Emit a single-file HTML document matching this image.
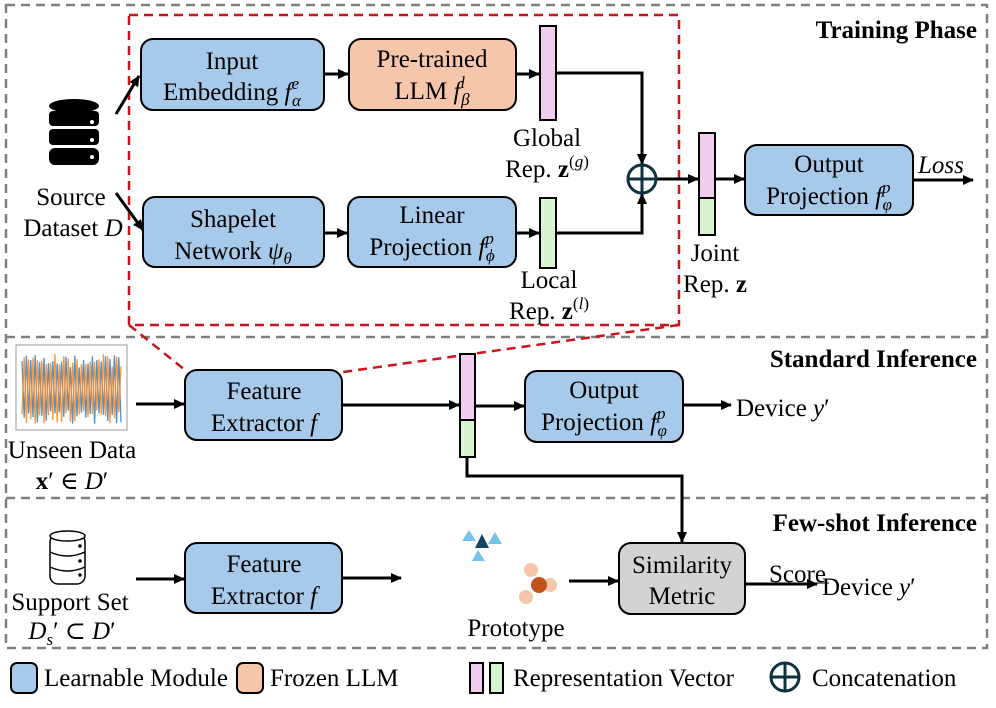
<!DOCTYPE html>
<html><head><meta charset="utf-8"><style>
body{margin:0;background:#fff;}
svg{display:block;}
svg text{font-family:"Liberation Serif","DejaVu Serif",serif;}
</style></head><body>
<svg width="996" height="708" viewBox="0 0 996 708" xmlns="http://www.w3.org/2000/svg">
<defs>
<marker id="ah" markerWidth="11" markerHeight="10" refX="10" refY="5" orient="auto" markerUnits="userSpaceOnUse"><path d="M0,0 L11,5 L0,10 z" fill="#000"/></marker>
</defs>
<g fill="none" stroke="#808080" stroke-width="2.5" stroke-dasharray="9,6">
<rect x="6" y="5" width="981" height="643"/>
<line x1="6" y1="337" x2="987" y2="337"/>
<line x1="6" y1="498" x2="987" y2="498"/>
</g>
<g fill="none" stroke="#c8151b" stroke-width="2.5" stroke-dasharray="9,6">
<rect x="129" y="15" width="550" height="310"/>
<line x1="129" y1="325" x2="185" y2="370"/>
<line x1="679" y1="325" x2="343" y2="372"/>
</g>
<g font-size="25" font-weight="bold" text-anchor="end">
<text x="977" y="38">Training Phase</text>
<text x="977" y="367">Standard Inference</text>
<text x="977" y="531">Few-shot Inference</text>
</g>
<g fill="#000">
<ellipse cx="74" cy="106" rx="25" ry="7"/>
<rect x="49" y="111" width="50" height="15" rx="4"/>
<rect x="49" y="129" width="50" height="16" rx="4"/>
<rect x="49" y="148" width="50" height="17" rx="6"/>
<circle cx="92" cy="122" r="2" fill="#fff"/><circle cx="92" cy="140" r="2" fill="#fff"/><circle cx="92" cy="157" r="2" fill="#fff"/>
</g>
<g font-size="25" text-anchor="middle">
<text x="71" y="205">Source</text>
<text x="73" y="236">Dataset <tspan font-style="italic">D</tspan></text>
</g>
<g stroke="#000" stroke-width="3" fill="none">
<line x1="116" y1="114" x2="139" y2="76" marker-end="url(#ah)"/>
<line x1="116" y1="193" x2="143" y2="230" marker-end="url(#ah)"/>
</g>
<g stroke="#000" stroke-width="2">
<rect x="141" y="39" width="183" height="71" rx="12" fill="#a7c9ea"/>
<rect x="349" y="39" width="167" height="71" rx="12" fill="#f5c6aa"/>
<rect x="143" y="197" width="181" height="70" rx="12" fill="#a7c9ea"/>
<rect x="348" y="197" width="168" height="70" rx="12" fill="#a7c9ea"/>
<rect x="745" y="145" width="168" height="70" rx="12" fill="#a7c9ea"/>
<rect x="185" y="370" width="157" height="70" rx="12" fill="#a7c9ea"/>
<rect x="525" y="371" width="158" height="71" rx="12" fill="#a7c9ea"/>
<rect x="185" y="543" width="157" height="70" rx="12" fill="#a7c9ea"/>
<rect x="619" y="543" width="126" height="71" rx="12" fill="#d3d3d3"/>
<rect x="540" y="26" width="16" height="94" fill="#f0cdec"/>
<rect x="540" y="198" width="16" height="70" fill="#d9f2d0"/>
<rect x="699" y="133" width="16" height="65" fill="#f0cdec"/>
<rect x="699" y="198" width="16" height="37" fill="#d9f2d0"/>
<rect x="460" y="354" width="15" height="66" fill="#f0cdec"/>
<rect x="460" y="420" width="15" height="37" fill="#d9f2d0"/>
</g>
<g font-size="25" text-anchor="middle">
<text x="232" y="69">Input</text>
<text x="232" y="100">Embedding <tspan font-style="italic">f</tspan><tspan font-style="italic" font-size="17" dy="-11">e</tspan><tspan font-style="italic" font-size="17" dx="-7" dy="17">α</tspan></text>
<text x="432" y="67">Pre-trained</text>
<text x="432" y="99">LLM <tspan font-style="italic">f</tspan><tspan font-style="italic" font-size="17" dy="-11">l</tspan><tspan font-style="italic" font-size="17" dx="-4" dy="17">β</tspan></text>
<text x="233" y="227">Shapelet</text>
<text x="233" y="259">Network <tspan font-style="italic">ψ</tspan><tspan font-style="italic" font-size="17" dy="5">θ</tspan></text>
<text x="432" y="223">Linear</text>
<text x="432" y="255">Projection <tspan font-style="italic">f</tspan><tspan font-style="italic" font-size="17" dy="-11">p</tspan><tspan font-style="italic" font-size="17" dx="-8" dy="17">ϕ</tspan></text>
<text x="547" y="146">Global</text>
<text x="547" y="177">Rep. <tspan font-weight="bold">z</tspan><tspan font-size="17" dy="-10">(<tspan font-style="italic">g</tspan>)</tspan></text>
<text x="549" y="288">Local</text>
<text x="549" y="319">Rep. <tspan font-weight="bold">z</tspan><tspan font-size="17" dy="-10">(<tspan font-style="italic">l</tspan>)</tspan></text>
<text x="715" y="261">Joint</text>
<text x="715" y="292">Rep. <tspan font-weight="bold">z</tspan></text>
<text x="829" y="172">Output</text>
<text x="829" y="204">Projection <tspan font-style="italic">f</tspan><tspan font-style="italic" font-size="17" dy="-11">p</tspan><tspan font-style="italic" font-size="17" dx="-8" dy="17">φ</tspan></text>
<text x="264" y="399">Feature</text>
<text x="264" y="431">Extractor <tspan font-style="italic">f</tspan></text>
<text x="604" y="398">Output</text>
<text x="604" y="430">Projection <tspan font-style="italic">f</tspan><tspan font-style="italic" font-size="17" dy="-11">p</tspan><tspan font-style="italic" font-size="17" dx="-8" dy="17">φ</tspan></text>
<text x="264" y="572">Feature</text>
<text x="264" y="604">Extractor <tspan font-style="italic">f</tspan></text>
<text x="682" y="573">Similarity</text>
<text x="682" y="604">Metric</text>
<text x="72" y="458">Unseen Data</text>
<text x="72" y="489"><tspan font-weight="bold">x</tspan>′ ∈ <tspan font-style="italic">D</tspan>′</text>
<text x="70" y="610">Support Set</text>
<text x="72" y="639"><tspan font-style="italic">D</tspan><tspan font-style="italic" font-size="17" dy="6">s</tspan><tspan dy="-6">′ ⊂ </tspan><tspan font-style="italic">D</tspan>′</text>
<text x="516" y="636">Prototype</text>
</g>
<g font-size="25">
<text x="918" y="173" font-style="italic">Loss</text>
<text x="736" y="416">Device <tspan font-style="italic">y</tspan>′</text>
<text x="769" y="582">Score</text>
<text x="822" y="595">Device <tspan font-style="italic">y</tspan>′</text>
</g>
<g stroke="#000" stroke-width="3" fill="none">
<line x1="324" y1="74" x2="348" y2="74" marker-end="url(#ah)"/>
<line x1="516" y1="74" x2="539" y2="74" marker-end="url(#ah)"/>
<line x1="324" y1="233" x2="347" y2="233" marker-end="url(#ah)"/>
<line x1="516" y1="233" x2="539" y2="233" marker-end="url(#ah)"/>
<polyline points="556,73 642,73 642,164" marker-end="url(#ah)"/>
<polyline points="556,233 642,233 642,194" marker-end="url(#ah)"/>
<line x1="657" y1="179" x2="698" y2="179" marker-end="url(#ah)"/>
<line x1="715" y1="179" x2="744" y2="179" marker-end="url(#ah)"/>
<line x1="913" y1="180" x2="973" y2="180" marker-end="url(#ah)"/>
<line x1="136" y1="404" x2="184" y2="404" marker-end="url(#ah)"/>
<line x1="343" y1="405" x2="459" y2="405" marker-end="url(#ah)"/>
<line x1="476" y1="406" x2="524" y2="406" marker-end="url(#ah)"/>
<line x1="683" y1="405" x2="731" y2="405" marker-end="url(#ah)"/>
<polyline points="467,457 467,476 682,476 682,542" marker-end="url(#ah)"/>
<line x1="136" y1="579" x2="184" y2="579" marker-end="url(#ah)"/>
<line x1="343" y1="578" x2="401" y2="578" marker-end="url(#ah)"/>
<line x1="569" y1="581" x2="618" y2="581" marker-end="url(#ah)"/>
<line x1="746" y1="584" x2="817" y2="584" marker-end="url(#ah)"/>
<line x1="769" y1="583" x2="829" y2="583" stroke-width="1"/>
</g>
<g stroke="#0d3340" stroke-width="3" fill="none">
<circle cx="642" cy="179" r="14"/>
<line x1="628" y1="179" x2="656" y2="179"/><line x1="642" y1="165" x2="642" y2="193"/>
</g>
<g stroke="#000" stroke-width="1.5" fill="#fff">
<rect x="50" y="534" width="35" height="50" rx="8"/>
<ellipse cx="67.5" cy="536" rx="17.5" ry="5"/>
<path d="M50,552 Q67.5,560 85,552 M50,567 Q67.5,575 85,567" fill="none"/>
<circle cx="80" cy="546" r="1" fill="#000"/><circle cx="80" cy="561" r="1" fill="#000"/><circle cx="80" cy="575" r="1" fill="#000"/>
</g>
<g>
<polygon points="469,530 462,541 476,541" fill="#74c3ea"/>
<polygon points="495,532 488,544 502,544" fill="#74c3ea"/>
<polygon points="482,534 475,548 489,548" fill="#154660"/>
<polygon points="478,550 472,561 485,561" fill="#74c3ea"/>
<circle cx="531" cy="570" r="7" fill="#f5c6aa"/>
<circle cx="550" cy="585" r="7" fill="#f5c6aa"/>
<circle cx="526" cy="597" r="7" fill="#f5c6aa"/>
<circle cx="539" cy="585" r="8" fill="#c2511c"/>
</g>
<rect x="16" y="345" width="111" height="85" fill="#fff" stroke="#999" stroke-width="1"/>
<polyline id="pb" fill="none" stroke="#2e7fbf" stroke-width="1.3" opacity="0.85" points=""/>
<polyline id="po" fill="none" stroke="#ff8418" stroke-width="1.3" opacity="0.85" points=""/>
<g stroke="#000" stroke-width="2">
<rect x="11" y="663" width="26" height="30" rx="6" fill="#a7c9ea"/>
<rect x="237" y="663" width="26" height="30" rx="6" fill="#f5c6aa"/>
<rect x="470" y="663" width="13" height="30" fill="#f0cdec"/>
<rect x="490" y="663" width="13" height="30" fill="#d9f2d0"/>
</g>
<g stroke="#0d3340" stroke-width="3" fill="none">
<circle cx="785" cy="677" r="14"/>
<line x1="771" y1="677" x2="799" y2="677"/><line x1="785" y1="663" x2="785" y2="691"/>
</g>
<g font-size="25">
<text x="44" y="686">Learnable Module</text>
<text x="270" y="686">Frozen LLM</text>
<text x="513" y="686">Representation Vector</text>
<text x="812" y="686">Concatenation</text>
</g>
<script>
(function(){
 function gen(seed,ph){var p=[],s=seed;function r(){s=(s*9301+49297)%233280;return s/233280;}
 for(var x=22;x<=123;x+=2.2){var k=Math.round((x-22)/2.2);var up=(k+ph)%2==0;var y=up?(354+r()*14):(410+r()*14);p.push(x.toFixed(1)+","+y.toFixed(1));}
 return p.join(" ");}
 document.getElementById("pb").setAttribute("points",gen(7,0));
 document.getElementById("po").setAttribute("points",gen(3,1));
})();
</script>
</svg>
</body></html>
